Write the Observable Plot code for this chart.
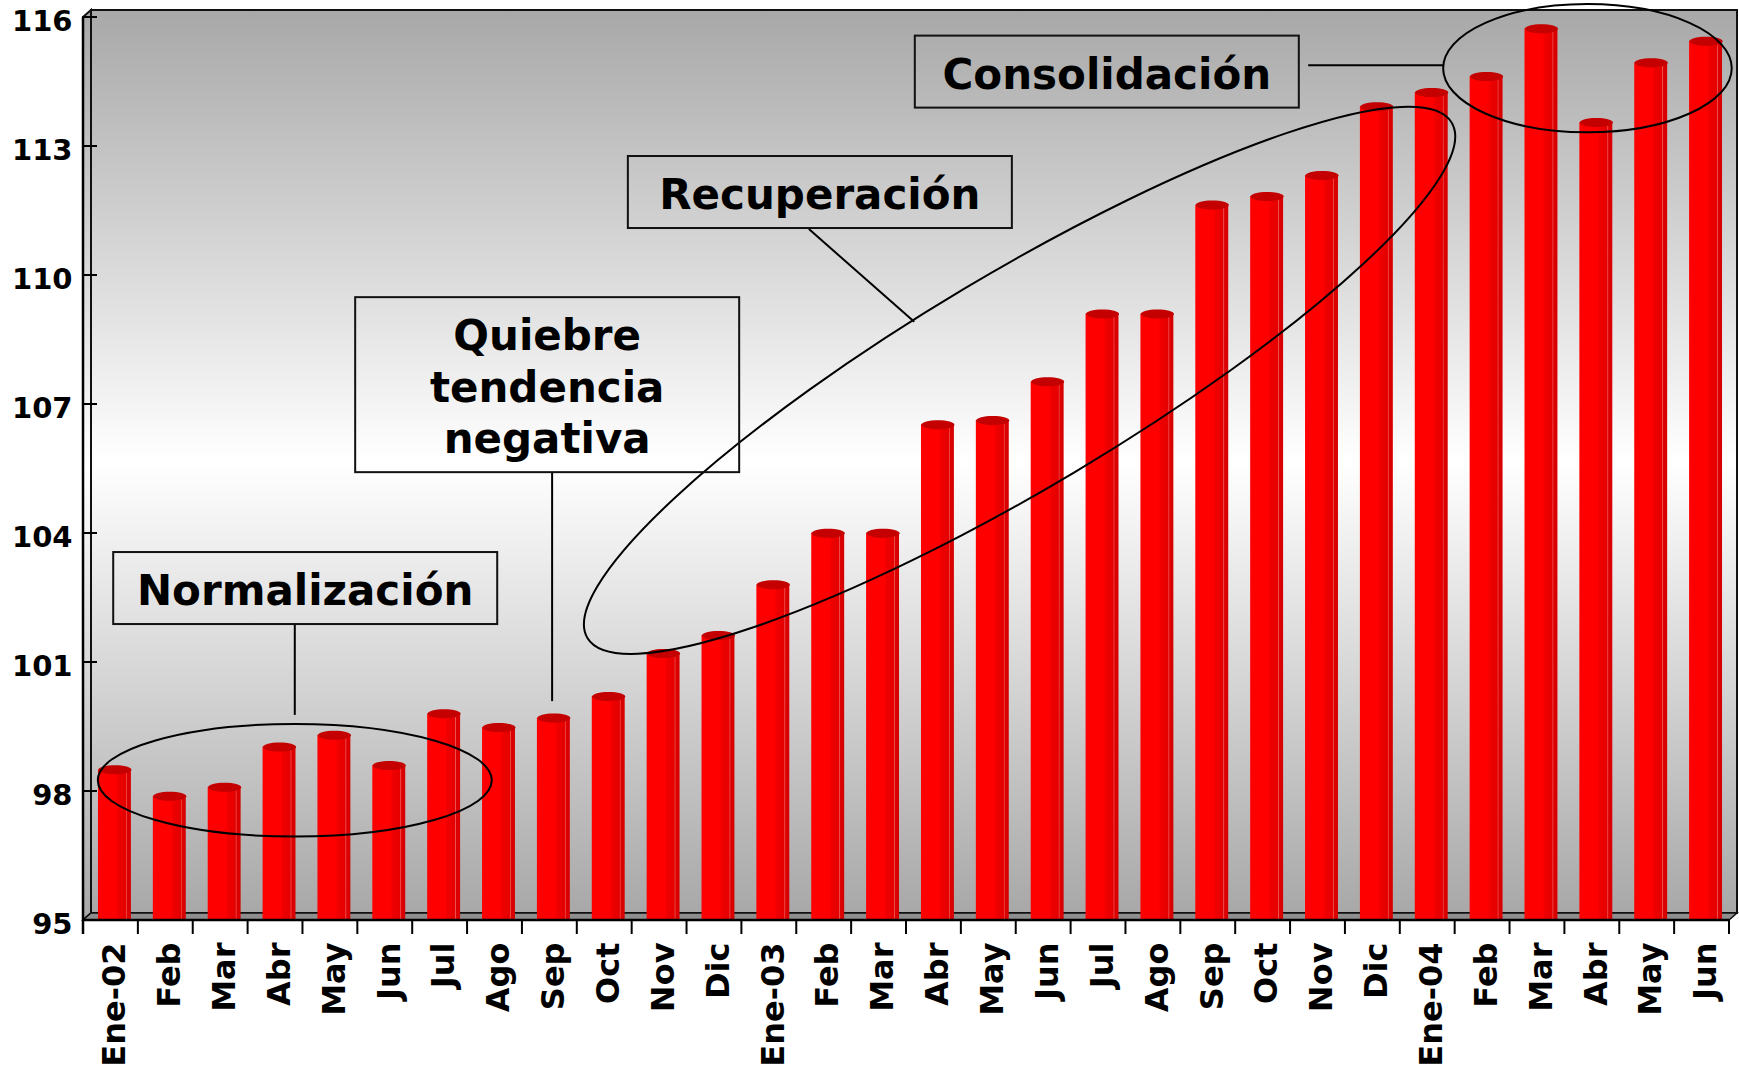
<!DOCTYPE html>
<html>
<head>
<meta charset="utf-8">
<script src="https://cdn.jsdelivr.net/npm/d3@7"></script>
<script src="https://cdn.jsdelivr.net/npm/@observablehq/plot@0.6"></script>
<style>
  html, body { margin: 0; padding: 0; background: #ffffff; }
  #chart svg { display: block; }
</style>
</head>
<body>
<div id="chart"></div>
<script>
// ---- data ----
const categories = ["Ene-02","Feb","Mar","Abr","May","Jun","Jul","Ago","Sep","Oct","Nov","Dic",
                    "Ene-03","Feb","Mar","Abr","May","Jun","Jul","Ago","Sep","Oct","Nov","Dic",
                    "Ene-04","Feb","Mar","Abr","May","Jun"];
const values = [98.6, 97.98, 98.19, 99.13, 99.4, 98.7, 99.9, 99.58, 99.8, 100.3, 101.3, 101.72,
                102.9, 104.1, 104.1, 106.62, 106.72, 107.62, 109.2, 109.2, 111.73, 111.93, 112.42, 114.02,
                114.35, 114.72, 115.83, 113.65, 115.04, 115.54];
const yTicks = [95, 98, 101, 104, 107, 110, 113, 116];

// annotations, in chart coordinates (k = position counted in category slots from the left edge, v = index value)
const phaseBoxes = [
  {lines: ["Normalización"], k: 4.05, v: 102.72},
  {lines: ["Quiebre", "tendencia", "negativa"], k: 8.46, v: 107.45},
  {lines: ["Recuperación"], k: 13.43, v: 111.93},
  {lines: ["Consolidación"], k: 18.66, v: 114.73}
];
const phaseEllipses = [
  {k: 3.86, v: 98.25, rk: 3.59, rv: 1.31, angle: 0},
  {k: 17.07, v: 107.55, rk: 9.17, rv: 2.49, angle: -30.8},
  {k: 27.42, v: 114.81, rk: 2.63, rv: 1.49, angle: 0}
];
const callouts = [
  {k1: 3.86, v1: 101.88, k2: 3.86, v2: 99.77},
  {k1: 8.55, v1: 105.42, k2: 8.55, v2: 100.09},
  {k1: 13.23, v1: 111.07, k2: 15.15, v2: 108.91},
  {k1: 22.33, v1: 114.88, k2: 24.79, v2: 114.88}
];

const rows = values.map((v, i) => ({i, v}));

// ---- cap of each cylinder-like bar ----
const capSymbol = {
  draw(ctx) {
    const rx = 16.5, ry = 4.5, c = 0.5523;
    ctx.moveTo(rx, 0);
    ctx.bezierCurveTo(rx, ry * c, rx * c, ry, 0, ry);
    ctx.bezierCurveTo(-rx * c, ry, -rx, ry * c, -rx, 0);
    ctx.bezierCurveTo(-rx, -ry * c, -rx * c, -ry, 0, -ry);
    ctx.bezierCurveTo(rx * c, -ry, rx, -ry * c, rx, 0);
    ctx.closePath();
  }
};

const plot = Plot.plot({
  width: 1739,
  height: 1065,
  marginLeft: 83,
  marginRight: 10,
  marginTop: 17,
  marginBottom: 145,
  style: {fontFamily: "DejaVu Sans", fontWeight: "bold", fontSize: "32px", background: "transparent", color: "black", overflow: "visible"},
  x: {type: "band", domain: d3.range(categories.length), paddingInner: 0.4, paddingOuter: 0.2, round: false,
      tickSize: 0, tickRotate: -90, tickPadding: 22, tickFormat: i => categories[i], label: null},
  y: {domain: [95, 116], ticks: yTicks, tickSize: 0, tickPadding: 11, label: null},
  marks: [
    Plot.barY(rows, {x: "i", y1: 95, y2: "v", fill: "url(#barGrad)", insetTop: 4, dx: 4}),
    Plot.dot(rows, {x: "i", y: "v", symbol: capSymbol, r: 5, fill: "#c40000", stroke: "none", dx: 4, dy: 4})
  ]
});

document.getElementById("chart").appendChild(plot);

// ---- decoration driven by the plot's scales ----
const svg = d3.select(plot);
const xs = plot.scale("x"), ys = plot.scale("y");
const step = xs.apply(1) - xs.apply(0);
const c0 = xs.apply(0) + xs.bandwidth / 2;
const kx = k => c0 + (k - 0.5) * step;
const vy = v => ys.apply(v);
const n = categories.length;
const L = kx(0), R = kx(n), T = vy(116), B = vy(95);
const ddx = 8, ddy = 7;

svg.selectAll('g[aria-label^="y-axis"] text').attr("font-size", 29).each(function () {
  const t = this.getAttribute("transform") || "";
  this.setAttribute("transform", `translate(0,4) ${t}`);
});
svg.selectAll('g[aria-label^="x-axis"] text').attr("font-size", 32).each(function () {
  const t = this.getAttribute("transform") || "";
  this.setAttribute("transform", `translate(4,0) ${t}`);
});

const defs = svg.insert("defs", ":first-child");
const wg = defs.append("linearGradient").attr("id", "wallGrad").attr("x1", 0).attr("y1", 0).attr("x2", 0).attr("y2", 1);
[[0, "#a8a8a8"], [0.5, "#ffffff"], [1, "#a8a8a8"]].forEach(([o, c]) => wg.append("stop").attr("offset", o).attr("stop-color", c));
const bg = defs.append("linearGradient").attr("id", "barGrad").attr("x1", 0).attr("y1", 0).attr("x2", 1).attr("y2", 0);
[[0, "#ff0000"], [0.55, "#ff0000"], [0.62, "#ee0000"], [0.84, "#e40000"], [0.86, "#f05050"], [0.89, "#dc0000"], [1, "#d60000"]]
  .forEach(([o, c]) => bg.append("stop").attr("offset", o).attr("stop-color", c));

// back wall, side wall and floor behind the bars
const back = svg.insert("g", "g");
back.append("rect")
  .attr("x", L + ddx).attr("y", T - ddy).attr("width", R - L).attr("height", (B - ddy) - (T - ddy))
  .attr("fill", "url(#wallGrad)").attr("stroke", "#111").attr("stroke-width", 2);
back.append("path")
  .attr("d", `M${L},${T}L${L + ddx},${T - ddy}L${L + ddx},${B - ddy}L${L},${B}Z`)
  .attr("fill", "url(#wallGrad)").attr("stroke", "#111").attr("stroke-width", 2);
back.append("path")
  .attr("d", `M${L},${B}L${L + ddx},${B - ddy}L${R + ddx},${B - ddy}L${R},${B}Z`)
  .attr("fill", "#8e8e8e").attr("stroke", "#111").attr("stroke-width", 1.5);

// front axes and ticks
const front = svg.append("g").attr("stroke", "black").attr("fill", "none");
front.append("path").attr("d", `M${L},${T}L${L},${B + 14}`).attr("stroke-width", 2.5);
front.append("path").attr("d", `M${L},${B}L${R},${B}`).attr("stroke-width", 2.5);
yTicks.forEach(t => front.append("path").attr("d", `M${L - 1},${vy(t)}H${L + 14}`).attr("stroke-width", 2));
d3.range(n + 1).forEach(k => front.append("path").attr("d", `M${kx(k)},${B}V${B + 14}`).attr("stroke-width", 2));

// annotations
const ann = svg.append("g");
phaseEllipses.forEach(e => {
  const cx = kx(e.k), cy = vy(e.v);
  ann.append("ellipse")
    .attr("cx", cx).attr("cy", cy)
    .attr("rx", e.rk * step).attr("ry", Math.abs(vy(e.v + e.rv) - cy))
    .attr("transform", `rotate(${e.angle} ${cx} ${cy})`)
    .attr("fill", "none").attr("stroke", "black").attr("stroke-width", 2);
});
callouts.forEach(c => {
  ann.append("line")
    .attr("x1", kx(c.k1)).attr("y1", vy(c.v1)).attr("x2", kx(c.k2)).attr("y2", vy(c.v2))
    .attr("stroke", "black").attr("stroke-width", 2);
});
phaseBoxes.forEach(b => {
  const cx = kx(b.k), cy = vy(b.v);
  const lineH = 51.5;
  const w = 384, h = b.lines.length === 1 ? 72 : 175;
  ann.append("rect")
    .attr("x", cx - w / 2).attr("y", cy - h / 2).attr("width", w).attr("height", h)
    .attr("fill", "none").attr("stroke", "#111").attr("stroke-width", 2);
  b.lines.forEach((t, j) => {
    ann.append("text")
      .attr("x", cx).attr("y", cy + 17 + (j - (b.lines.length - 1) / 2) * lineH)
      .attr("text-anchor", "middle")
      .attr("font-family", "DejaVu Sans").attr("font-weight", "bold").attr("font-size", 42)
      .attr("fill", "black")
      .text(t);
  });
});
</script>
</body>
</html>
